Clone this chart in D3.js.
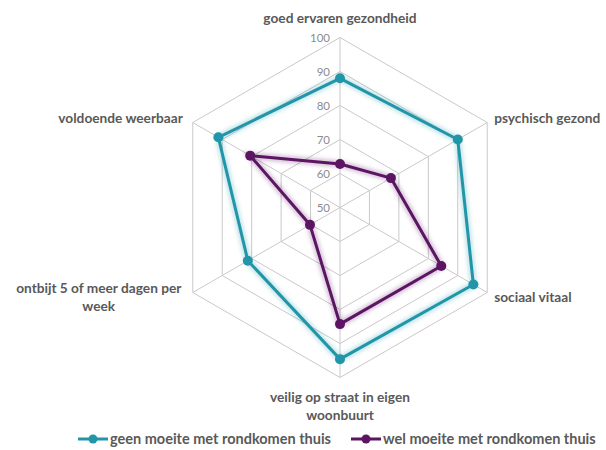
<!DOCTYPE html>
<html>
<head>
<meta charset="utf-8">
<script src="https://cdn.jsdelivr.net/npm/d3@7"></script>
<style>
  html, body { margin: 0; padding: 0; background: #fff; }
  svg { display: block; }
</style>
</head>
<body>
<svg id="chart" width="606" height="450"></svg>
<script>
const categories = [
  "goed ervaren gezondheid",
  "psychisch gezond",
  "sociaal vitaal",
  "veilig op straat in eigen woonbuurt",
  "ontbijt 5 of meer dagen per week",
  "voldoende weerbaar"
];
const seriesNames = ["geen moeite met rondkomen thuis", "wel moeite met rondkomen thuis"];
const geenValues = [88, 90, 95.3, 94.6, 81.3, 91.3];
const welValues = [62.8, 67.3, 84.4, 84.3, 60.2, 80.5];
const tickValues = [50, 60, 70, 80, 90, 100];
const colors = ["#2196a8", "#5c1563"];

const svg = d3.select("#chart");
const cx = 340, cy = 207.5, R = 170;
const r = d3.scaleLinear().domain([50, 100]).range([0, R]);
const angle = d3.scalePoint().domain(categories).range([0, 2 * Math.PI * 5 / 6]);
const pt = (cat, v) => {
  const a = angle(cat);
  return [cx + r(v) * Math.sin(a), cy - r(v) * Math.cos(a)];
};

const defs = svg.append("defs");
const f = defs.append("filter").attr("id", "glow").attr("x", "-20%").attr("y", "-20%").attr("width", "140%").attr("height", "140%");
f.append("feGaussianBlur").attr("stdDeviation", 2);

const g = svg.append("g");
tickValues.slice(1).forEach(t => {
  g.append("polygon")
    .attr("points", categories.map(c => pt(c, t).join(",")).join(" "))
    .attr("fill", "none").attr("stroke", "#c9c9c9").attr("stroke-width", 1);
});
categories.forEach(c => {
  const [x, y] = pt(c, 100);
  g.append("line").attr("x1", cx).attr("y1", cy).attr("x2", x).attr("y2", y)
    .attr("stroke", "#c9c9c9").attr("stroke-width", 1);
});
tickValues.forEach(t => {
  g.append("text").attr("x", cx - 10).attr("y", cy - r(t)).attr("dy", "0.35em")
    .attr("text-anchor", "end").attr("font-family", "Lato, 'Open Sans', sans-serif")
    .attr("font-size", 11.5).attr("fill", "#8c8c8c").text(t);
});

const labelSpec = [
  { anchor: "middle", dx: 0, dy: -19.5 },
  { anchor: "start", dx: 7, dy: -4.5 },
  { anchor: "start", dx: 7, dy: 4.5 },
  { anchor: "middle", dx: 0, dy: 19.5 },
  { anchor: "middle", dx: -94, dy: -4.5 },
  { anchor: "end", dx: -10, dy: -4.5 }
];
const maxW = 178;
categories.forEach((c, i) => {
  const [x, y] = pt(c, 100);
  const s = labelSpec[i];
  const t = g.append("text").attr("text-anchor", s.anchor)
    .attr("font-family", "Lato, 'Open Sans', sans-serif").attr("font-weight", "bold")
    .attr("font-size", 13.7).attr("fill", "#595959");
  const words = c.split(" ");
  let lines = [], line = [];
  const probe = t.append("tspan");
  words.forEach(w => {
    const test = line.concat(w).join(" ");
    probe.text(test);
    if (probe.node().getComputedTextLength() > maxW && line.length) { lines.push(line.join(" ")); line = [w]; }
    else line.push(w);
  });
  lines.push(line.join(" "));
  probe.remove();
  lines.forEach((l, k) => {
    t.append("tspan").attr("x", x + s.dx).attr("y", y + s.dy + k * 18).attr("dy", "0.35em").text(l);
  });
});

const lineGen = d3.line().curve(d3.curveLinearClosed);
[geenValues, welValues].forEach((vals, si) => {
  const pts = categories.map((c, i) => pt(c, vals[i]));
  const col = colors[si];
  g.append("path").attr("d", lineGen(pts)).attr("fill", "none")
    .attr("stroke", col).attr("stroke-opacity", 0.3).attr("stroke-width", 6).attr("filter", "url(#glow)");
  g.append("path").attr("d", lineGen(pts)).attr("fill", "none")
    .attr("stroke", col).attr("stroke-width", 3).attr("stroke-linejoin", "round");
  g.selectAll(null).data(pts).enter().append("circle")
    .attr("cx", d => d[0]).attr("cy", d => d[1]).attr("r", 5).attr("fill", col);
});

const legendX = [78, 351];
seriesNames.forEach((n, i) => {
  const lx = legendX[i], ly = 439;
  const lg = svg.append("g");
  lg.append("line").attr("x1", lx).attr("x2", lx + 30).attr("y1", ly).attr("y2", ly)
    .attr("stroke", colors[i]).attr("stroke-width", 3);
  lg.append("circle").attr("cx", lx + 15).attr("cy", ly).attr("r", 4.5).attr("fill", colors[i]);
  lg.append("text").attr("x", lx + 32).attr("y", ly).attr("dy", "0.35em")
    .attr("font-family", "Lato, 'Open Sans', sans-serif").attr("font-weight", "bold")
    .attr("font-size", 14.5).attr("fill", "#595959").text(n);
});
</script>
</body>
</html>
